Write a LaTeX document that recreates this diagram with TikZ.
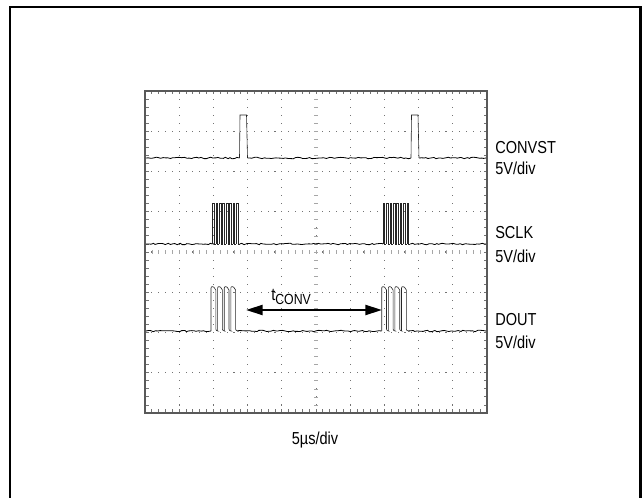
\documentclass[tikz,border=0pt]{standalone}
\usepackage{fontspec}
\setmainfont{Liberation Sans}[FakeStretch=0.84]
\usetikzlibrary{arrows.meta,decorations.pathmorphing}
\definecolor{gridc}{gray}{0.45}
\definecolor{boxc}{gray}{0.35}
\begin{document}
\begin{tikzpicture}[x=0.75pt,y=-0.75pt,
  lbl/.style={anchor=west,inner sep=0pt,font=\fontsize{13pt}{15pt}\selectfont},
  trace/.style={black,line width=0.6pt},
  edge/.style={black!85,line width=0.45pt},
  noisy/.style={trace,decorate,decoration={random steps,segment length=1.8pt,amplitude=0.55pt}},
  tick/.style={gridc,line width=0.6pt},
  atick/.style={gray!70,line width=0.5pt}]
\pgfmathsetseed{7}
\useasboundingbox (0,0) rectangle (642,498);
\begin{scope}
\clip (0,0) rectangle (642,498);
\draw[line width=2.2pt] (10,530) -- (10,7) -- (640.5,7) -- (640.5,530);
\end{scope}
% dotted grid
\foreach \k in {1,...,9} {
  \foreach \j in {1,...,39} {
    \fill[gridc] (145+34.2*\k-0.5,91+8.05*\j-0.5) rectangle ++(1.1,1.1);
  }
}
\foreach \k in {1,...,7} {
  \foreach \j in {1,...,49} {
    \fill[gridc] (145+6.84*\j-0.5,91+40.25*\k-0.5) rectangle ++(1.1,1.1);
  }
}
% edge and axis ticks
\foreach \j in {1,...,39} {
  \draw[tick] (145,91+8.05*\j) -- ++(3.5,0);
  \draw[tick] (487,91+8.05*\j) -- ++(-3.5,0);
  \draw[atick] (314,91+8.05*\j) -- ++(4,0);
}
\foreach \j in {1,...,49} {
  \draw[tick] (145+6.84*\j,91) -- ++(0,3.5);
  \draw[tick] (145+6.84*\j,413) -- ++(0,-3.5);
  \draw[atick] (145+6.84*\j,250) -- ++(0,4);
}
\draw[boxc,line width=1pt] (145,91) rectangle (487,413);
% CONVST trace
\draw[noisy] (146,158) -- (239.5,158);
\draw[edge] (239.5,158) -- (240,115) -- (246.5,115) -- (247.5,158);
\draw[noisy] (247.5,158) -- (411,158);
\draw[edge] (411,158) -- (411.5,115) -- (418,115) -- (419,158);
\draw[noisy] (419,158) -- (486,158);
% SCLK trace
\draw[noisy] (146,244) -- (212.5,244);
\foreach \i in {0,...,7} {
  \draw[edge] (212.5+3.4*\i,244) -- ++(0,-41) -- ++(1.7,0) -- ++(0,41) -- ++(1.7,0);
}
\draw[noisy] (239.7,244) -- (383,244);
\foreach \i in {0,...,7} {
  \draw[edge] (383+3.4*\i,244) -- ++(0,-41) -- ++(1.7,0) -- ++(0,41) -- ++(1.7,0);
}
\draw[noisy] (410.2,244) -- (486,244);
% DOUT trace
\draw[noisy] (146,331) -- (211,331);
\foreach \i in {0,...,3} {
  \draw[edge,rounded corners=1.5pt] (211+6.6*\i,331) -- ++(0,-45) -- ++(4.8,2) -- ++(0,43) -- ++(1.8,0);
}
\draw[noisy] (237.4,331) -- (381.7,331);
\foreach \i in {0,...,3} {
  \draw[edge,rounded corners=1.5pt] (381.7+6.6*\i,331) -- ++(0,-45) -- ++(4.8,2) -- ++(0,43) -- ++(1.8,0);
}
\draw[noisy] (408.1,331) -- (486,331);
% t_CONV arrow
\coordinate (al) at (246,310);
\coordinate (ar) at (382,310);
\draw[line width=1.6pt,{Triangle[length=12.5pt,width=7.5pt]}-{Triangle[length=12.5pt,width=7.5pt]}] (al) -- (ar);
\node[lbl] (tconv) at (271,297) {t\raisebox{-3pt}{\fontsize{11pt}{12pt}\selectfont CONV}};
% labels
\node[lbl] (convst) at (495,148) {CONVST};
\node[lbl] (convstv) at (495,168) {5V/div};
\node[lbl] (sclk) at (495,233) {SCLK};
\node[lbl] (sclkv) at (495,256) {5V/div};
\node[lbl] (dout) at (495,320) {DOUT};
\node[lbl] (doutv) at (495,342) {5V/div};
\node[lbl,anchor=center] (tdiv) at (315,440) {5µs/div};
\end{tikzpicture}
\end{document}
